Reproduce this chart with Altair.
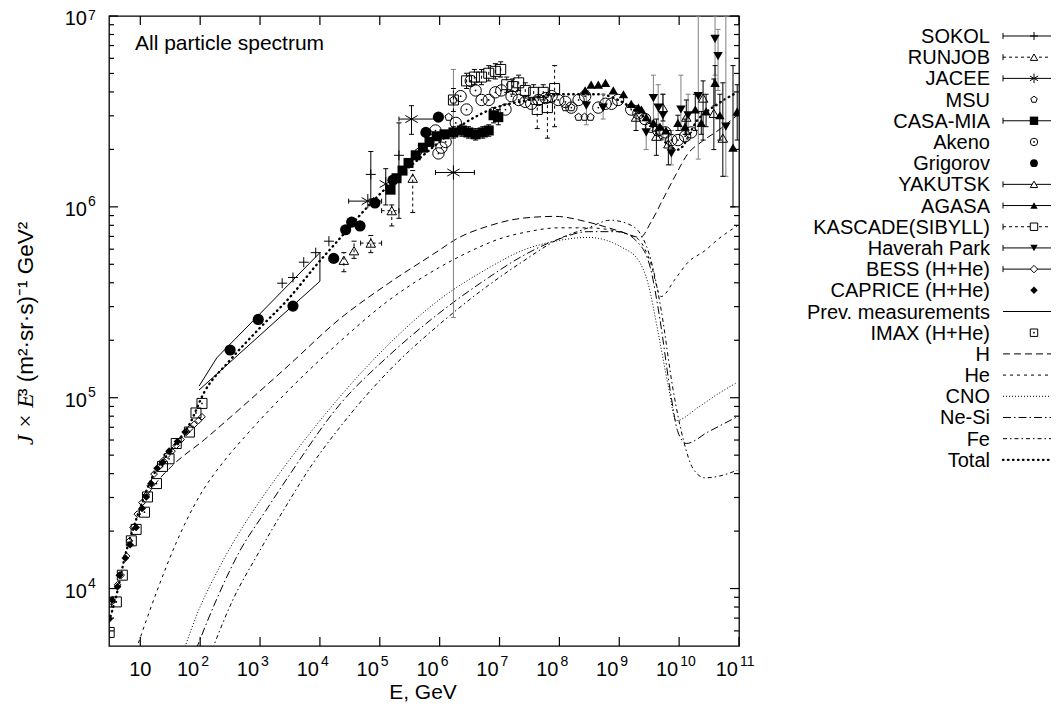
import altair as alt
import numpy as np
import pandas as pd

# ---------------- model curves: log10(E/GeV), log10(J*E^3) ----------------
h_lgE = [1.12, 1.23, 1.52, 2.07, 2.73, 3.48, 4.32, 5.15, 5.98, 6.27, 6.82, 7.37, 7.93, 8.48, 9.03, 9.35, 9.53, 9.73, 9.93, 10.15, 10.37, 10.65, 10.97]
h_lgJ = [4.49, 4.54, 4.64, 4.78, 4.96, 5.17, 5.41, 5.60, 5.77, 5.83, 5.90, 5.94, 5.95, 5.92, 5.87, 5.84, 5.92, 6.04, 6.16, 6.28, 6.34, 6.40, 6.48]
he_lgE = [0.93, 1.27, 1.60, 1.98, 2.43, 2.73, 3.48, 4.32, 5.15, 5.98, 6.53, 6.98, 7.48, 7.98, 8.48, 8.98, 9.32, 9.52, 9.70, 9.93, 10.15, 10.43, 10.65, 10.97]
he_lgJ = [3.68, 3.98, 4.24, 4.48, 4.68, 4.79, 5.04, 5.29, 5.51, 5.68, 5.77, 5.83, 5.87, 5.89, 5.89, 5.87, 5.83, 5.71, 5.53, 5.62, 5.71, 5.77, 5.83, 5.90]
cno_lgE = [1.73, 1.98, 2.27, 2.53, 2.87, 3.27, 3.65, 4.32, 5.15, 5.98, 6.82, 7.37, 7.93, 8.48, 9.03, 9.32, 9.48, 9.65, 9.82, 9.95, 10.32, 10.65, 10.97]
cno_lgJ = [3.68, 3.89, 4.08, 4.23, 4.40, 4.58, 4.74, 5.00, 5.28, 5.51, 5.68, 5.77, 5.82, 5.84, 5.79, 5.72, 5.60, 5.34, 5.06, 4.88, 4.95, 5.02, 5.08]
nesi_lgE = [1.93, 2.27, 2.65, 3.10, 3.48, 4.32, 5.15, 5.98, 6.82, 7.37, 7.98, 8.48, 8.98, 9.32, 9.52, 9.68, 9.85, 9.98, 10.12, 10.48, 10.97]
nesi_lgJ = [3.68, 3.94, 4.19, 4.41, 4.59, 4.96, 5.22, 5.44, 5.63, 5.74, 5.83, 5.87, 5.87, 5.81, 5.68, 5.41, 5.04, 4.82, 4.76, 4.82, 4.90]
fe_lgE = [2.20, 2.53, 2.98, 3.43, 3.87, 4.32, 5.15, 5.98, 6.82, 7.37, 7.98, 8.48, 8.85, 9.15, 9.37, 9.53, 9.70, 9.90, 10.07, 10.23, 10.43, 10.68, 10.97]
fe_lgJ = [3.68, 3.93, 4.19, 4.43, 4.65, 4.84, 5.14, 5.38, 5.59, 5.71, 5.83, 5.89, 5.93, 5.91, 5.85, 5.72, 5.46, 5.04, 4.78, 4.63, 4.58, 4.59, 4.62]
tot_lgE = [0.48, 0.62, 0.73, 0.95, 1.18, 1.52, 1.82, 2.07, 2.48, 2.98, 3.48, 3.98, 4.32, 4.65, 4.98, 5.65, 6.53, 6.85, 7.48, 7.98, 8.65, 9.15, 9.48, 9.73, 9.98, 10.32, 10.60, 10.97]
tot_lgJ = [3.83, 3.99, 4.15, 4.38, 4.57, 4.73, 4.86, 5.03, 5.19, 5.36, 5.52, 5.71, 5.83, 5.95, 6.06, 6.25, 6.46, 6.51, 6.56, 6.59, 6.59, 6.53, 6.45, 6.35, 6.30, 6.46, 6.53, 6.60]
prev_lgE = [1.98, 4.00, 4.00, 2.28, 1.98]
prev_lgJ = [5.04, 5.61, 5.76, 5.21, 5.06]

# ---------------- measurements ----------------
sokol_lgE = [3.37, 3.55, 3.73, 3.93, 4.15, 4.85, 5.32]
sokol_lgJ = [5.60, 5.63, 5.71, 5.76, 5.82, 6.17, 6.27]
sokol_lo = [None, None, None, None, None, 6.04, 5.94]
sokol_hi = [None, None, None, None, None, 6.29, 6.44]

runjob_lgE = [4.40, 4.57, 4.85, 5.20, 5.55]
runjob_lgJ = [5.72, 5.77, 5.81, 5.98, 6.15]
runjob_lo = [5.66, 5.73, 5.76, 5.90, 5.97]
runjob_hi = [5.76, 5.82, 5.85, 6.01, 6.19]
runjob_elo = [None, None, 4.68, 5.03, None]
runjob_ehi = [None, None, 5.03, 5.32, None]

jacee_lgE = [4.80, 5.10, 5.53, 6.23]
jacee_lgJ = [6.03, 6.12, 6.46, 6.18]
jacee_lo = [None, 6.01, 6.38, None]
jacee_hi = [None, 6.20, 6.53, None]
jacee_elo = [4.48, None, 5.32, 5.93]
jacee_ehi = [5.03, None, 5.98, 6.58]
jacee_wide_lgE = [6.23]          # the point whose vertical bar is drawn in grey
jacee_wide_lgJ = [6.18]
jacee_wide_lo = [5.42]
jacee_wide_hi = [6.72]

msu_lgE = [5.65, 5.85, 6.15, 6.23, 8.10, 8.20, 8.32, 8.42, 8.52]
msu_lgJ = [6.29, 6.38, 6.47, 6.56, 6.52, 6.52, 6.47, 6.47, 6.47]

casa_lgE = [5.18, 5.28, 5.38, 5.48, 5.60, 5.72, 5.83, 5.95, 6.08, 6.23, 6.37, 6.48, 6.60, 6.72, 6.82, 6.90, 6.98]
casa_lgJ = [6.09, 6.15, 6.19, 6.23, 6.27, 6.31, 6.34, 6.37, 6.38, 6.39, 6.40, 6.39, 6.38, 6.39, 6.40, 6.48, 6.47]
casa_lo = [None] * 9 + [6.36, 6.37, 6.36, 6.35, 6.36, 6.37, 6.44, 6.43]
casa_hi = [None] * 9 + [6.42, 6.43, 6.42, 6.41, 6.42, 6.43, 6.52, 6.51]

akeno_lgE = [5.93, 5.98, 6.03, 6.10, 6.27, 6.45, 6.35, 6.52, 6.60, 6.70, 6.82, 6.93, 7.03, 7.10, 7.20, 7.32, 7.43, 7.53, 7.65, 7.77,
             7.87, 7.98, 8.10, 8.20, 8.32, 8.43, 8.65, 8.77, 8.87, 8.98, 9.20, 9.32, 9.43, 9.53, 9.65, 9.77, 9.87, 9.98, 10.10, 10.20]
akeno_lgJ = [6.40, 6.28, 6.31, 6.34, 6.44, 6.51, 6.58, 6.66, 6.61, 6.56, 6.56, 6.60, 6.61, 6.51, 6.58, 6.56, 6.55, 6.54, 6.56, 6.57,
             6.58, 6.56, 6.55, 6.52, 6.56, 6.58, 6.52, 6.54, 6.54, 6.56, 6.51, 6.49, 6.46, 6.42, 6.40, 6.39, 6.35, 6.35, 6.37, 6.39]

grig_lgE = [2.50, 2.97, 3.55, 4.23, 4.43, 4.53, 4.67, 4.92, 5.22, 5.77, 5.98]
grig_lgJ = [5.25, 5.41, 5.48, 5.73, 5.88, 5.92, 5.90, 6.02, 6.14, 6.39, 6.47]

yak_lgE = [9.28, 9.62, 9.73, 9.82, 10.12, 10.40, 10.58, 10.73]
yak_lgJ = [6.47, 6.37, 6.52, 6.33, 6.47, 6.57, 6.49, 6.36]
yak_lo = [6.40, 6.27, 6.45, 6.22, 6.38, 6.35, 6.30, 6.16]
yak_hi = [6.53, 6.46, 6.59, 6.40, 6.56, 6.66, 6.67, 6.65]

agasa_lgE = [8.43, 8.53, 8.65, 8.77, 8.90, 9.07, 9.20, 9.32, 9.37, 9.45, 9.57, 9.68, 9.78, 9.98, 10.10, 10.27, 10.37, 10.45, 10.60, 10.68, 10.90, 10.97]
agasa_lgJ = [6.61, 6.64, 6.64, 6.65, 6.61, 6.59, 6.54, 6.52, 6.51, 6.47, 6.44, 6.42, 6.40, 6.44, 6.42, 6.51, 6.44, 6.50, 6.65, 6.48, 6.31, 6.50]
agasa_lo = [None] * 13 + [6.40, 6.38, 6.40, 6.38, 6.42, 6.53, 6.35, 6.00, 6.35]
agasa_hi = [None] * 13 + [6.48, 6.46, 6.59, 6.50, 6.59, 6.74, 6.59, 6.74, 6.64]

kas_lgE = [6.23, 6.45, 6.58, 6.70, 6.82, 6.93, 7.02, 7.12, 7.22, 7.32, 7.43, 7.57, 7.63, 7.73, 7.80, 7.92]
kas_lgJ = [6.56, 6.66, 6.68, 6.68, 6.70, 6.71, 6.72, 6.64, 6.63, 6.65, 6.61, 6.60, 6.51, 6.60, 6.52, 6.62]
kas_lo = [6.50, 6.62, 6.64, 6.64, 6.66, 6.67, 6.68, 6.60, 6.59, 6.61, 6.57, 6.56, 6.41, 6.56, 6.36, 6.42]
kas_hi = [6.62, 6.70, 6.72, 6.72, 6.74, 6.75, 6.76, 6.68, 6.67, 6.69, 6.65, 6.64, 6.58, 6.64, 6.59, 6.74]

hav_lgE = [8.45, 8.73, 9.45, 9.57, 9.65, 9.73, 9.87, 10.03, 10.15, 10.32, 10.60, 10.65, 10.78]
hav_lgJ = [6.53, 6.52, 6.39, 6.57, 6.52, 6.48, 6.28, 6.51, 6.48, 6.58, 6.88, 6.79, 6.42]
hav_lo = [6.43, 6.46, 6.30, 6.40, 6.38, 6.35, 6.22, 6.40, 6.35, 6.25, 6.69, 6.61, 6.16]
hav_hi = [6.61, 6.59, 6.46, 6.69, 6.64, 6.59, 6.40, 6.69, 6.59, 7.00, 7.00, 6.93, 7.00]

bess_lgE = [0.52, 0.62, 0.68, 0.77, 0.82, 0.88, 0.95, 1.03, 1.10, 1.17, 1.23, 1.32, 1.38, 1.45, 1.53, 1.60, 1.68, 1.77, 1.83, 1.90, 1.97, 2.03]
bess_lgJ = [3.93, 4.02, 4.07, 4.17, 4.25, 4.32, 4.39, 4.45, 4.49, 4.54, 4.60, 4.64, 4.67, 4.70, 4.72, 4.75, 4.78, 4.82, 4.84, 4.86, 4.88, 4.90]

cap_lgE = [0.48, 0.53, 0.62, 0.65, 0.75, 0.83, 0.93, 1.03, 1.10, 1.18, 1.28, 1.37, 1.48, 1.62, 1.75]
cap_lgJ = [3.84, 3.94, 4.01, 4.07, 4.16, 4.23, 4.32, 4.42, 4.48, 4.55, 4.63, 4.66, 4.72, 4.77, 4.82]

imax_lgE = [0.48, 0.60, 0.70, 0.85, 0.93, 1.07, 1.12, 1.27, 1.37, 1.48, 1.60, 1.82, 1.93, 2.03]
imax_lgJ = [3.77, 3.93, 4.07, 4.25, 4.31, 4.40, 4.48, 4.55, 4.64, 4.68, 4.76, 4.82, 4.92, 4.97]

legend_labels = ["SOKOL", "RUNJOB", "JACEE", "MSU", "CASA-MIA", "Akeno", "Grigorov", "YAKUTSK", "AGASA",
                 "KASCADE(SIBYLL)", "Haverah Park", "BESS (H+He)", "CAPRICE (H+He)", "Prev. measurements",
                 "IMAX (H+He)", "H", "He", "CNO", "Ne-Si", "Fe", "Total"]

x_major = [10.0 ** k for k in range(1, 12)]
x_sup = ["", "2", "3", "4", "5", "6", "7", "8", "9", "10", "11"]
y_major = [1e4, 1e5, 1e6, 1e7]
y_sup = ["4", "5", "6", "7"]
y_minor = [m * 10.0 ** k for k in range(3, 7) for m in range(2, 10) if 5000 < m * 10.0 ** k < 1e7]

# ---------------- helpers ----------------
FONT = "Liberation Sans"
W, H = 630, 630
xs = alt.Scale(type="log", domain=[3, 1e11], nice=False)
ys = alt.Scale(type="log", domain=[5000, 1e7], nice=False)


def X(f="E"):
    return alt.X(f"{f}:Q", scale=xs, axis=None)


def Y(f="J"):
    return alt.Y(f"{f}:Q", scale=ys, axis=None)


def tbl(lgE, lgJ, lo=None, hi=None, elo=None, ehi=None):
    d = pd.DataFrame({"E": np.power(10.0, lgE), "J": np.power(10.0, lgJ)})
    d["i"] = range(len(d))
    for col, arr in (("jlo", lo), ("jhi", hi), ("elo", elo), ("ehi", ehi)):
        d[col] = [np.nan if (arr is None or arr[k] is None) else 10.0 ** arr[k] for k in range(len(d))]
    return d


layers = []


def curve(lgE, lgJ, dash=None, width=1.0, cap="butt", ordered=False, smooth=True):
    d = tbl(lgE, lgJ)[["E", "J", "i"]]
    kw = dict(color="black", strokeWidth=width, clip=True, strokeCap=cap)
    if smooth:
        kw["interpolate"] = "monotone"
    if dash:
        kw["strokeDash"] = dash
    enc = dict(x=X(), y=Y())
    if ordered:
        enc["order"] = alt.Order("i:Q")
    layers.append(alt.Chart(d).mark_line(**kw).encode(**enc))


CAP_H = "M-1,0L1,0"
CAP_V = "M0,-1L0,1"


def bars(d, color="black", dash=None):
    v = d.dropna(subset=["jlo", "jhi"])[["E", "J", "jlo", "jhi"]]
    kw = dict(color=color, strokeWidth=1, clip=True)
    if dash:
        kw["strokeDash"] = dash
    if len(v):
        layers.append(alt.Chart(v).mark_rule(**kw).encode(x=X(), y=Y("jlo"), y2=alt.Y2("jhi:Q")))
        for f in ("jlo", "jhi"):
            layers.append(alt.Chart(v).mark_point(shape=CAP_H, size=25, filled=False, color=color, opacity=1,
                                                  strokeWidth=1, clip=True).encode(x=X(), y=Y(f)))
    h = d.dropna(subset=["elo", "ehi"])[["E", "J", "elo", "ehi"]]
    if len(h):
        layers.append(alt.Chart(h).mark_rule(**kw).encode(x=X("elo"), x2=alt.X2("ehi:Q"), y=Y()))
        for f in ("elo", "ehi"):
            layers.append(alt.Chart(h).mark_point(shape=CAP_V, size=25, filled=False, color=color, opacity=1,
                                                  strokeWidth=1, clip=True).encode(x=X(f), y=Y()))


def points(d, shape, size, filled, sw=1.0, dot=False):
    layers.append(alt.Chart(d[["E", "J"]]).mark_point(shape=shape, size=size, filled=filled, color="black",
                                                      opacity=1, strokeWidth=sw, clip=True).encode(x=X(), y=Y()))
    if dot:
        layers.append(alt.Chart(d[["E", "J"]]).mark_point(shape="circle", size=3, filled=True, color="black",
                                                          opacity=1, clip=True).encode(x=X(), y=Y()))


PLUS = "M-1,0L1,0M0,-1L0,1"
STAR = "M0,-1L0,1M-0.87,-0.5L0.87,0.5M-0.87,0.5L0.87,-0.5"
PENT = "M0,-1L0.951,-0.309L0.588,0.809L-0.588,0.809L-0.951,-0.309Z"

# ---------------- model curves ----------------
curve(h_lgE, h_lgJ, dash=[7, 4])
curve(he_lgE, he_lgJ, dash=[3, 4])
curve(cno_lgE, cno_lgJ, dash=[1, 2])
curve(nesi_lgE, nesi_lgJ, dash=[8, 3, 1.5, 3])
curve(fe_lgE, fe_lgJ, dash=[4, 3, 1.5, 3])
curve(prev_lgE, prev_lgJ, ordered=True, smooth=False)
curve(tot_lgE, tot_lgJ, dash=[0.5, 4.5], width=2.4, cap="round")

# ---------------- data sets ----------------
d_sokol = tbl(sokol_lgE, sokol_lgJ, sokol_lo, sokol_hi)
d_runjob = tbl(runjob_lgE, runjob_lgJ, runjob_lo, runjob_hi, runjob_elo, runjob_ehi)
d_jacee = tbl(jacee_lgE, jacee_lgJ, jacee_lo, jacee_hi, jacee_elo, jacee_ehi)
d_jacee_wide = tbl(jacee_wide_lgE, jacee_wide_lgJ, jacee_wide_lo, jacee_wide_hi)
d_msu = tbl(msu_lgE, msu_lgJ)
d_casa = tbl(casa_lgE, casa_lgJ, casa_lo, casa_hi)
d_akeno = tbl(akeno_lgE, akeno_lgJ)
d_grig = tbl(grig_lgE, grig_lgJ)
d_yak = tbl(yak_lgE, yak_lgJ, yak_lo, yak_hi)
d_agasa = tbl(agasa_lgE, agasa_lgJ, agasa_lo, agasa_hi)
d_kas = tbl(kas_lgE, kas_lgJ, kas_lo, kas_hi)
d_hav = tbl(hav_lgE, hav_lgJ, hav_lo, hav_hi)
d_bess = tbl(bess_lgE, bess_lgJ)
d_cap = tbl(cap_lgE, cap_lgJ)
d_imax = tbl(imax_lgE, imax_lgJ)

bars(d_jacee_wide, color="#808080")
bars(d_hav, color="#808080")
bars(d_sokol)
bars(d_runjob, dash=[3, 3])
bars(d_jacee)
bars(d_casa)
bars(d_yak)
bars(d_agasa)
bars(d_kas, dash=[3, 3])

points(d_imax, "square", 100, False, dot=True)
points(d_bess, "diamond", 45, False)
points(d_cap, "diamond", 60, True)
points(d_sokol, PLUS, 100, False)
points(d_runjob, "triangle-up", 90, False)
points(d_jacee, STAR, 200, False)
points(d_msu, PENT, 60, False)
points(d_casa, "square", 100, True)
points(d_akeno, "circle", 130, False, dot=True)
points(d_grig, "circle", 125, True)
points(d_kas, "square", 100, False)
points(d_yak, "triangle-up", 90, False)
points(d_agasa, "triangle-up", 90, True)
points(d_hav, "triangle-down", 90, True)

# ---------------- axes (ticks drawn inside the frame) ----------------
dxm = pd.DataFrame({"E": x_major, "base": ["10"] * len(x_major), "sup": x_sup})
dym = pd.DataFrame({"J": y_major, "base": ["10"] * len(y_major), "sup": y_sup})
dyn = pd.DataFrame({"J": y_minor})
tick = dict(color="black", strokeWidth=1.2)
layers += [
    alt.Chart(dxm).mark_rule(**tick).encode(x=X(), y=alt.value(H), y2=alt.value(H - 9)),
    alt.Chart(dxm).mark_rule(**tick).encode(x=X(), y=alt.value(0), y2=alt.value(9)),
    alt.Chart(dym).mark_rule(**tick).encode(y=Y(), x=alt.value(0), x2=alt.value(9)),
    alt.Chart(dym).mark_rule(**tick).encode(y=Y(), x=alt.value(W), x2=alt.value(W - 9)),
    alt.Chart(dyn).mark_rule(**tick).encode(y=Y(), x=alt.value(0), x2=alt.value(5)),
    alt.Chart(dyn).mark_rule(**tick).encode(y=Y(), x=alt.value(W), x2=alt.value(W - 5)),
]
dx_first = dxm[dxm["sup"] == ""]
dx_rest = dxm[dxm["sup"] != ""]
dy_low = dym[dym["J"] < 1e7]
dy_top = dym[dym["J"] >= 1e7]
layers += [
    alt.Chart(dx_first).mark_text(font=FONT, fontSize=20, align="center", baseline="alphabetic").encode(
        x=X(), y=alt.value(660), text="base:N"),
    alt.Chart(dx_rest).mark_text(font=FONT, fontSize=20, align="right", baseline="alphabetic", dx=-1).encode(
        x=X(), y=alt.value(660), text="base:N"),
    alt.Chart(dx_rest).mark_text(font=FONT, fontSize=14, align="left", baseline="alphabetic", dx=1).encode(
        x=X(), y=alt.value(650), text="sup:N"),
    alt.Chart(dym).mark_text(font=FONT, fontSize=20, align="right", baseline="alphabetic", dy=9).encode(
        y=Y(), x=alt.value(-22), text="base:N"),
    alt.Chart(dy_low).mark_text(font=FONT, fontSize=14, align="left", baseline="alphabetic", dy=-1).encode(
        y=Y(), x=alt.value(-21), text="sup:N"),
    alt.Chart(dy_top).mark_text(font=FONT, fontSize=14, align="left", baseline="alphabetic", dy=4).encode(
        y=Y(), x=alt.value(-21), text="sup:N"),
]

one = pd.DataFrame({"a": [0]})
layers += [
    alt.Chart(one).mark_text(font=FONT, fontSize=21, align="center", baseline="alphabetic", text="E, GeV").encode(
        x=alt.value(314), y=alt.value(683)),
    alt.Chart(one).mark_text(font="Liberation Serif", fontStyle="italic", fontSize=23, align="left",
                             baseline="alphabetic", angle=270, text="J × E").encode(x=alt.value(-76), y=alt.value(429)),
    alt.Chart(one).mark_text(font=FONT, fontSize=22.5, align="left", baseline="alphabetic", angle=270,
                             text="³ (m²·sr·s)⁻¹ GeV²").encode(x=alt.value(-76), y=alt.value(380)),
    alt.Chart(one).mark_text(font=FONT, fontSize=21, align="left", baseline="alphabetic",
                             text="All particle spectrum").encode(x=alt.value(26), y=alt.value(34)),
]

# ---------------- legend (right of the frame) ----------------
row_y = [20 + 21.2 * k for k in range(len(legend_labels))]          # pixel rows relative to the plot top
row_J = [10.0 ** (7 - y * 3.3 / H) for y in row_y]                   # same rows expressed through the y scale
leg = pd.DataFrame({"label": legend_labels, "J": row_J})
LX_TXT, LX0, LX1, LXM = 881, 894, 960, 925
layers.append(alt.Chart(leg).mark_text(font=FONT, fontSize=20, align="right", baseline="alphabetic", dy=7).encode(
    x=alt.value(LX_TXT), y=Y(), text="label:N"))


def leg_row(name):
    return leg[leg["label"] == name][["J"]]


solid_rows = ["SOKOL", "JACEE", "CASA-MIA", "YAKUTSK", "AGASA", "Haverah Park", "BESS (H+He)"]
dashed_rows = ["RUNJOB", "KASCADE(SIBYLL)"]
for names, dash in ((solid_rows, None), (dashed_rows, [3, 3])):
    d = leg[leg["label"].isin(names)][["J"]]
    kw = dict(color="black", strokeWidth=1)
    if dash:
        kw["strokeDash"] = dash
    layers.append(alt.Chart(d).mark_rule(**kw).encode(x=alt.value(LX0), x2=alt.value(LX1), y=Y()))
    layers.append(alt.Chart(d).mark_point(shape=CAP_V, size=36, filled=False, color="black", opacity=1,
                                          strokeWidth=1).encode(x=alt.value(LX0), y=Y()))

line_rows = [("Prev. measurements", None, 1.0, "butt"), ("H", [7, 4], 1.0, "butt"), ("He", [3, 4], 1.0, "butt"),
             ("CNO", [1, 2], 1.0, "butt"), ("Ne-Si", [8, 3, 1.5, 3], 1.0, "butt"), ("Fe", [4, 3, 1.5, 3], 1.0, "butt"),
             ("Total", [0.5, 4.5], 2.4, "round")]
for name, dash, wdt, capstyle in line_rows:
    kw = dict(color="black", strokeWidth=wdt, strokeCap=capstyle)
    if dash:
        kw["strokeDash"] = dash
    layers.append(alt.Chart(leg_row(name)).mark_rule(**kw).encode(x=alt.value(LX0), x2=alt.value(LX1), y=Y()))

leg_marks = [("SOKOL", PLUS, 64, False, False), ("RUNJOB", "triangle-up", 55, False, False),
             ("JACEE", STAR, 90, False, False), ("MSU", PENT, 45, False, False),
             ("CASA-MIA", "square", 70, True, False), ("Akeno", "circle", 55, False, True),
             ("Grigorov", "circle", 60, True, False), ("YAKUTSK", "triangle-up", 55, False, False),
             ("AGASA", "triangle-up", 55, True, False), ("KASCADE(SIBYLL)", "square", 55, False, False),
             ("Haverah Park", "triangle-down", 55, True, False), ("BESS (H+He)", "diamond", 55, False, False),
             ("CAPRICE (H+He)", "diamond", 55, True, False), ("IMAX (H+He)", "square", 55, False, True)]
for name, shp, sz, fl, dot in leg_marks:
    d = leg_row(name)
    if not fl:
        layers.append(alt.Chart(d).mark_point(shape=shp, size=sz, filled=True, color="white", opacity=1).encode(
            x=alt.value(LXM), y=Y()))
    layers.append(alt.Chart(d).mark_point(shape=shp, size=sz, filled=fl, color="black", opacity=1,
                                          strokeWidth=1).encode(x=alt.value(LXM), y=Y()))
    if dot:
        layers.append(alt.Chart(d).mark_point(shape="circle", size=3, filled=True, color="black", opacity=1).encode(
            x=alt.value(LXM), y=Y()))

chart = alt.layer(*layers).properties(
    width=W, height=H,
    autosize=alt.AutoSizeParams(type="none"),
    padding={"left": 101, "top": 8, "right": 312, "bottom": 60},
    background="white",
).configure_view(stroke="black", strokeWidth=1.3)

chart.save("out.html", embed_options={"renderer": "svg", "actions": False})
